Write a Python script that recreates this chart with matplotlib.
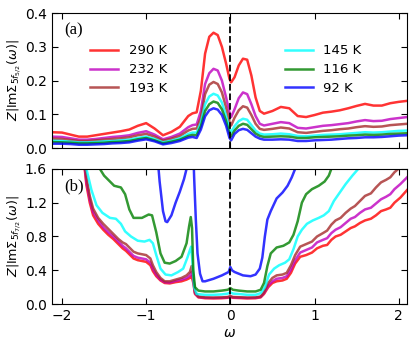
import numpy as np
import matplotlib
matplotlib.use("Agg")
import matplotlib.pyplot as plt

nan = np.nan
temps = ["290 K", "232 K", "193 K", "145 K", "116 K", "92 K"]
colors = ["r", "m", "brown", "cyan", "g", "b"]

# panel (a): 5f5/2
w_top = [-2.12, -2.0, -1.9, -1.8, -1.7, -1.6, -1.5, -1.4, -1.3, -1.2, -1.1, -1.0, -0.9, -0.8, -0.7, -0.6, -0.5,
         -0.45, -0.4, -0.35, -0.3, -0.25, -0.2, -0.15, -0.1, -0.05, -0.01,
         0.01, 0.05, 0.1, 0.15, 0.2, 0.25, 0.3, 0.35, 0.4,
         0.5, 0.6, 0.7, 0.8, 0.9, 1.0, 1.1, 1.2, 1.3, 1.4, 1.5, 1.6, 1.7, 1.8, 1.9, 2.0, 2.1]
top_290 = [0.047, 0.046, 0.040, 0.034, 0.034, 0.038, 0.042, 0.046, 0.050, 0.055, 0.066, 0.074, 0.058, 0.038, 0.048, 0.063, 0.095,
           0.103, 0.106, 0.17, 0.28, 0.33, 0.342, 0.335, 0.30, 0.25, 0.205,
           0.195, 0.21, 0.245, 0.265, 0.262, 0.215, 0.15, 0.11, 0.102,
           0.11, 0.122, 0.118, 0.095, 0.092, 0.098, 0.105, 0.108, 0.112, 0.118, 0.125, 0.131, 0.126, 0.126, 0.133, 0.137, 0.140]
top_232 = [0.034, 0.033, 0.029, 0.025, 0.025, 0.027, 0.030, 0.033, 0.035, 0.038, 0.045, 0.050, 0.040, 0.026, 0.033, 0.043, 0.062,
           0.068, 0.070, 0.11, 0.19, 0.222, 0.235, 0.230, 0.20, 0.15, 0.105,
           0.092, 0.115, 0.148, 0.165, 0.160, 0.13, 0.095, 0.072, 0.067,
           0.072, 0.077, 0.074, 0.060, 0.058, 0.062, 0.066, 0.068, 0.071, 0.074, 0.079, 0.083, 0.080, 0.081, 0.086, 0.089, 0.092]
top_193 = [0.028, 0.027, 0.024, 0.021, 0.021, 0.023, 0.025, 0.027, 0.029, 0.032, 0.038, 0.042, 0.034, 0.022, 0.028, 0.036, 0.052,
           0.057, 0.058, 0.09, 0.16, 0.188, 0.196, 0.19, 0.165, 0.12, 0.078,
           0.067, 0.09, 0.112, 0.124, 0.12, 0.098, 0.072, 0.057, 0.054,
           0.057, 0.061, 0.058, 0.047, 0.045, 0.048, 0.051, 0.053, 0.056, 0.058, 0.062, 0.065, 0.063, 0.064, 0.068, 0.070, 0.072]
top_145 = [0.022, 0.021, 0.019, 0.017, 0.017, 0.018, 0.020, 0.021, 0.023, 0.025, 0.030, 0.034, 0.027, 0.017, 0.022, 0.029, 0.042,
           0.046, 0.046, 0.075, 0.13, 0.153, 0.161, 0.156, 0.135, 0.095, 0.056,
           0.047, 0.065, 0.080, 0.087, 0.084, 0.068, 0.052, 0.043, 0.040,
           0.041, 0.043, 0.041, 0.036, 0.035, 0.037, 0.039, 0.040, 0.041, 0.043, 0.045, 0.047, 0.046, 0.047, 0.049, 0.051, 0.052]
top_116 = [0.018, 0.017, 0.016, 0.014, 0.014, 0.015, 0.016, 0.018, 0.019, 0.021, 0.026, 0.030, 0.023, 0.014, 0.019, 0.025, 0.036,
           0.039, 0.038, 0.065, 0.11, 0.13, 0.138, 0.134, 0.115, 0.08, 0.043,
           0.035, 0.052, 0.066, 0.072, 0.069, 0.056, 0.043, 0.036, 0.033,
           0.034, 0.035, 0.034, 0.030, 0.030, 0.032, 0.033, 0.034, 0.035, 0.037, 0.038, 0.040, 0.039, 0.040, 0.042, 0.043, 0.044]
top_92 = [0.013, 0.013, 0.012, 0.010, 0.010, 0.011, 0.012, 0.014, 0.015, 0.017, 0.022, 0.026, 0.020, 0.011, 0.015, 0.021, 0.031,
          0.033, 0.030, 0.055, 0.094, 0.112, 0.118, 0.114, 0.098, 0.066, 0.030,
          0.023, 0.042, 0.053, 0.057, 0.054, 0.044, 0.034, 0.028, 0.025,
          0.025, 0.026, 0.025, 0.021, 0.021, 0.023, 0.024, 0.025, 0.027, 0.029, 0.030, 0.032, 0.032, 0.033, 0.035, 0.037, 0.038]

# panel (b): 5f7/2
w_hi = [-1.76, -1.73, -1.71, -1.67, -1.63, -1.57, -1.51, -1.45, -1.39, -1.33, -1.28, -1.24, -1.2, -1.15, -1.1,
        -1.05, -1.0, -0.95, -0.92, -0.88, -0.83, -0.78, -0.72, -0.65, -0.58, -0.52, -0.48, -0.46, -0.44, -0.42,
        -0.38, -0.3, -0.2, -0.1, -0.03, 0.0, 0.03, 0.1, 0.2, 0.3, 0.36, 0.4, 0.45, 0.5, 0.55, 0.62, 0.67, 0.72,
        0.77, 0.83, 0.9, 0.97, 1.03, 1.1, 1.15, 1.2, 1.25, 1.31, 1.37, 1.43, 1.48, 1.54, 1.6, 1.67, 1.73, 1.79,
        1.85, 1.9, 1.95, 2.02, 2.1]
bot_290 = [1.8, 1.6, 1.41, 1.2, 1.05, 0.95, 0.88, 0.82, 0.77, 0.71, 0.66, 0.63, 0.59, 0.54, 0.52,
           0.51, 0.50, 0.46, 0.39, 0.33, 0.28, 0.25, 0.245, 0.26, 0.27, 0.29, 0.31, 0.33, 0.25, 0.12,
           0.08, 0.07, 0.068, 0.07, 0.075, 0.085, 0.075, 0.072, 0.068, 0.07, 0.08, 0.12, 0.2, 0.25, 0.27, 0.28, 0.30, 0.37,
           0.48, 0.56, 0.58, 0.61, 0.66, 0.69, 0.70, 0.76, 0.80, 0.82, 0.86, 0.90, 0.92, 0.96, 0.99, 1.01, 1.05, 1.10,
           1.12, 1.14, 1.20, 1.26, 1.35]
bot_232 = [1.8, 1.62, 1.45, 1.24, 1.09, 0.99, 0.91, 0.85, 0.80, 0.74, 0.69, 0.66, 0.62, 0.57, 0.55,
           0.54, 0.53, 0.49, 0.42, 0.35, 0.29, 0.26, 0.255, 0.275, 0.29, 0.31, 0.34, 0.38, 0.28, 0.13,
           0.085, 0.075, 0.073, 0.075, 0.08, 0.09, 0.08, 0.077, 0.073, 0.075, 0.085, 0.13, 0.22, 0.27, 0.30, 0.31, 0.33, 0.41,
           0.52, 0.61, 0.64, 0.67, 0.73, 0.76, 0.78, 0.84, 0.88, 0.91, 0.96, 1.01, 1.03, 1.08, 1.12, 1.14, 1.19, 1.24,
           1.27, 1.30, 1.36, 1.42, 1.50]
bot_193 = [1.8, 1.65, 1.5, 1.28, 1.13, 1.02, 0.95, 0.89, 0.83, 0.77, 0.73, 0.71, 0.67, 0.62, 0.60,
           0.59, 0.58, 0.54, 0.46, 0.38, 0.31, 0.27, 0.27, 0.29, 0.31, 0.34, 0.38, 0.45, 0.32, 0.14,
           0.09, 0.08, 0.078, 0.08, 0.085, 0.095, 0.085, 0.082, 0.078, 0.08, 0.09, 0.14, 0.25, 0.31, 0.34, 0.35, 0.37, 0.46,
           0.58, 0.68, 0.71, 0.74, 0.80, 0.84, 0.87, 0.94, 0.99, 1.02, 1.08, 1.13, 1.16, 1.22, 1.28, 1.31, 1.38, 1.44,
           1.47, 1.50, 1.56, 1.62, 1.7]
w_145 = [-1.74, -1.71, -1.65, -1.59, -1.52, -1.43, -1.36, -1.3, -1.25, -1.18, -1.1, -1.02, -0.96, -0.92, -0.88,
         -0.83, -0.77, -0.7, -0.62, -0.56, -0.51, -0.48, -0.465, -0.45, -0.43, -0.4, -0.3, -0.2, -0.1, -0.03,
         0.0, 0.03, 0.1, 0.2, 0.3, 0.36, 0.41, 0.46, 0.52, 0.58, 0.65, 0.7, 0.75, 0.8, 0.85,
         0.91, 0.98, 1.05, 1.11, 1.17, 1.23, 1.3, 1.37, 1.45, 1.52, 1.57]
bot_145 = [1.8, 1.6, 1.35, 1.17, 1.08, 1.02, 1.01, 0.95, 0.86, 0.8, 0.75, 0.74, 0.76, 0.72, 0.58,
           0.42, 0.35, 0.34, 0.38, 0.42, 0.55, 0.64, 0.68, 0.5, 0.2, 0.12, 0.11, 0.11, 0.115, 0.125,
           0.14, 0.125, 0.12, 0.11, 0.11, 0.13, 0.2, 0.35, 0.42, 0.46, 0.49, 0.53, 0.65, 0.8, 0.88,
           0.95, 0.99, 1.02, 1.05, 1.1, 1.22, 1.32, 1.42, 1.52, 1.6, 1.68]
w_116 = [-1.58, -1.55, -1.5, -1.43, -1.38, -1.3, -1.25, -1.2, -1.15, -1.05, -0.97, -0.93, -0.88, -0.83, -0.78,
         -0.72, -0.65, -0.58, -0.52, -0.49, -0.47, -0.455, -0.44, -0.42, -0.38, -0.3, -0.2, -0.1, -0.03, 0.0,
         0.03, 0.1, 0.2, 0.3, 0.36, 0.4, 0.44, 0.48, 0.55, 0.63, 0.7, 0.75, 0.8, 0.85, 0.9,
         0.97, 1.05, 1.12, 1.17, 1.2, 1.25]
bot_116 = [1.75, 1.6, 1.52, 1.45, 1.40, 1.38, 1.30, 1.12, 1.02, 1.02, 1.06, 1.05, 0.85, 0.6, 0.49,
           0.48, 0.51, 0.56, 0.72, 0.92, 1.03, 0.9, 0.4, 0.2, 0.16, 0.15, 0.15, 0.16, 0.17, 0.19,
           0.17, 0.16, 0.15, 0.15, 0.17, 0.25, 0.45, 0.6, 0.67, 0.69, 0.73, 0.82, 0.98, 1.2, 1.3,
           1.36, 1.4, 1.45, 1.52, 1.6, 1.75]
w_92 = [-0.87, -0.84, -0.8, -0.77, -0.75, -0.7, -0.65, -0.6, -0.55, -0.52, -0.5, -0.47, -0.44, -0.43, -0.41,
        -0.39, -0.36, -0.33, -0.3, -0.2, -0.1, -0.02, 0.0, 0.02, 0.05, 0.15, 0.24, 0.3, 0.35, 0.38,
        0.41, 0.44, 0.48, 0.55, 0.62, 0.68, 0.73, 0.77, 0.8]
bot_92 = [1.8, 1.45, 1.1, 0.98, 0.97, 1.05, 1.2, 1.33, 1.48, 1.6, 1.75, nan, 1.8, 1.5, 1.0,
          0.6, 0.36, 0.27, 0.27, 0.30, 0.34, 0.38, 0.44, 0.40, 0.38, 0.34, 0.33, 0.35, 0.42, 0.55,
          0.8, 1.0, 1.1, 1.25, 1.32, 1.4, 1.5, 1.6, 1.7]

top_curves = [top_290, top_232, top_193, top_145, top_116, top_92]
bot_curves = [(w_hi, bot_290), (w_hi, bot_232), (w_hi, bot_193), (w_145, bot_145), (w_116, bot_116), (w_92, bot_92)]

fig = plt.figure(figsize=(4.15, 3.46), dpi=100)
ax1 = fig.add_axes([0.125, 0.572, 0.856, 0.39])
ax2 = fig.add_axes([0.125, 0.121, 0.856, 0.391])

lines = []
for y, c, t in zip(top_curves, colors, temps):
    l, = ax1.plot(w_top, y, color=c, alpha=0.8, lw=1.8, label=t)
    lines.append(l)
for (x, y), c in zip(bot_curves, colors):
    ax2.plot(x, y, color=c, alpha=0.8, lw=1.8)

for ax in (ax1, ax2):
    ax.axvline(0, color="k", ls="--", lw=1.3)
    ax.set_xlim(-2.12, 2.1)
    ax.set_xticks([-2, -1, 0, 1, 2])
    ax.tick_params(direction="in", top=True, right=True, length=4, labelsize=10)

ax1.set_ylim(0, 0.4)
ax1.set_yticks([0.0, 0.1, 0.2, 0.3, 0.4])
ax1.set_xticklabels([])
ax2.set_ylim(0, 1.6)
ax2.set_yticks([0.0, 0.4, 0.8, 1.2, 1.6])
ax2.set_xticklabels(["\u22122", "\u22121", "0", "1", "2"])

ax1.set_ylabel(r"$Z|\mathrm{Im}\Sigma_{5f_{5/2}}(\omega)|$", fontsize=9.2)
ax2.set_ylabel(r"$Z|\mathrm{Im}\Sigma_{5f_{7/2}}(\omega)|$", fontsize=9.2)
ax2.set_xlabel(r"$\omega$", fontsize=10, labelpad=2)
ax1.yaxis.set_label_coords(-0.08, 0.5)
ax2.yaxis.set_label_coords(-0.08, 0.5)

ax1.text(0.035, 0.87, "(a)", transform=ax1.transAxes, family="Liberation Serif", fontsize=12, va="center")
ax2.text(0.035, 0.87, "(b)", transform=ax2.transAxes, family="Liberation Serif", fontsize=12, va="center")

leg1 = ax1.legend(handles=lines[:3], loc="upper left", bbox_to_anchor=(0.108, 0.77), frameon=False,
                  fontsize=9.5, handlelength=2.1, handletextpad=0.8, labelspacing=0.45,
                  borderpad=0, borderaxespad=0)
ax1.add_artist(leg1)
ax1.legend(handles=lines[3:], loc="upper left", bbox_to_anchor=(0.656, 0.77), frameon=False,
           fontsize=9.5, handlelength=2.1, handletextpad=0.8, labelspacing=0.45,
           borderpad=0, borderaxespad=0)

fig.savefig("out.png", dpi=100)
